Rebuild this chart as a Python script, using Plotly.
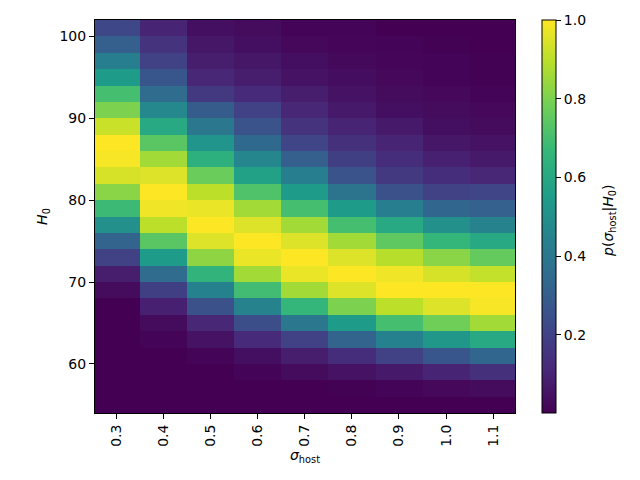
import plotly.graph_objects as go

sigma_host = [0.3, 0.4, 0.5, 0.6, 0.7, 0.8, 0.9, 1.0, 1.1]
H0 = [55, 57, 59, 61, 63, 65, 67, 69, 71, 73, 75, 77, 79, 81, 83, 85, 87, 89, 91, 93, 95, 97, 99, 101]

# columns listed top (H0=101) to bottom (H0=55)
col_03 = [0.22, 0.30, 0.43, 0.55, 0.70, 0.80, 0.92, 1.00, 0.99, 0.94, 0.82, 0.68,
          0.50, 0.32, 0.20, 0.08, 0.03, 0.0, 0.0, 0.0, 0.0, 0.0, 0.0, 0.0]
col_04 = [0.10, 0.15, 0.20, 0.27, 0.35, 0.47, 0.60, 0.74, 0.86, 0.95, 1.00, 0.98,
          0.90, 0.74, 0.55, 0.35, 0.19, 0.09, 0.03, 0.01, 0.0, 0.0, 0.0, 0.0]
col_05 = [0.04, 0.06, 0.08, 0.11, 0.17, 0.29, 0.40, 0.52, 0.63, 0.77, 0.90, 0.97,
          1.00, 0.95, 0.83, 0.65, 0.44, 0.25, 0.11, 0.05, 0.01, 0.0, 0.0, 0.0]
col_06 = [0.03, 0.04, 0.06, 0.08, 0.12, 0.20, 0.26, 0.34, 0.46, 0.57, 0.72, 0.86,
          0.95, 1.00, 0.97, 0.86, 0.69, 0.45, 0.24, 0.12, 0.04, 0.01, 0.0, 0.0]
col_07 = [0.01, 0.02, 0.04, 0.05, 0.08, 0.11, 0.15, 0.21, 0.30, 0.43, 0.55, 0.70,
          0.86, 0.95, 1.00, 0.97, 0.86, 0.66, 0.40, 0.20, 0.08, 0.03, 0.0, 0.0]
col_08 = [0.01, 0.015, 0.025, 0.035, 0.05, 0.07, 0.10, 0.14, 0.19, 0.26, 0.38, 0.55,
          0.70, 0.86, 0.95, 1.00, 0.95, 0.80, 0.55, 0.32, 0.13, 0.05, 0.005, 0.0]
col_09 = [0.0, 0.01, 0.015, 0.02, 0.03, 0.04, 0.07, 0.10, 0.13, 0.17, 0.25, 0.43,
          0.60, 0.75, 0.89, 0.98, 1.00, 0.90, 0.70, 0.44, 0.20, 0.07, 0.01, 0.0]
col_10 = [0.0, 0.005, 0.01, 0.01, 0.02, 0.03, 0.04, 0.06, 0.09, 0.13, 0.20, 0.33,
          0.50, 0.66, 0.82, 0.94, 1.00, 0.95, 0.78, 0.53, 0.27, 0.10, 0.02, 0.0]
col_11 = [0.0, 0.0, 0.005, 0.005, 0.01, 0.02, 0.03, 0.05, 0.07, 0.11, 0.21, 0.31,
          0.45, 0.60, 0.76, 0.91, 1.00, 0.99, 0.86, 0.60, 0.33, 0.14, 0.03, 0.0]

columns = [col_03, col_04, col_05, col_06, col_07, col_08, col_09, col_10, col_11]
# z[row][col] with rows ordered bottom->top to match H0
z = [[columns[c][len(H0) - 1 - r] for c in range(len(sigma_host))] for r in range(len(H0))]

font = "DejaVu Sans, sans-serif"
fs = 14

fig = go.Figure(go.Heatmap(
    x=sigma_host, y=H0, z=z,
    colorscale="Viridis", zmin=0.001, zmax=1.0,
    colorbar=dict(
        thickness=14, thicknessmode="pixels",
        len=1.0, lenmode="fraction", y=0.5, yanchor="middle",
        x=1.064, xanchor="left", xpad=0, ypad=0,
        outlinewidth=1, outlinecolor="black",
        tickvals=[0.2, 0.4, 0.6, 0.8, 1.0], ticktext=["0.2", "0.4", "0.6", "0.8", "1.0"],
        ticks="outside", ticklen=5, tickcolor="black",
        tickfont=dict(family=font, size=fs, color="black"),
    ),
))

fig.add_annotation(
    text="<i>p</i>(<i>σ</i><sub>host</sub>|<i>H</i><sub>0</sub>)",
    xref="paper", yref="paper", x=1.224, y=0.489,
    xanchor="center", yanchor="middle", textangle=-90, showarrow=False,
    font=dict(family=font, size=fs, color="black"),
)

fig.update_layout(
    width=632, height=472,
    margin=dict(l=87, r=125, t=12, b=67),
    paper_bgcolor="white", plot_bgcolor="white",
    font=dict(family=font, size=fs, color="black"),
    xaxis=dict(
        range=[0.2545, 1.1465], tickvals=sigma_host,
        ticktext=[f"{v:.1f}" for v in sigma_host], tickangle=-90,
        ticks="outside", ticklen=5, tickcolor="black",
        tickfont=dict(family=font, size=fs, color="black"),
        showline=True, mirror=True, linecolor="black", linewidth=1,
        showgrid=False, zeroline=False,
        title=dict(text="<i>σ</i><sub>host</sub>", font=dict(family=font, size=fs), standoff=4),
    ),
    yaxis=dict(
        range=[54, 102], tickvals=[60, 70, 80, 90, 100],
        ticks="outside", ticklen=5, tickcolor="black",
        tickfont=dict(family=font, size=fs, color="black"),
        showline=True, mirror=True, linecolor="black", linewidth=1,
        showgrid=False, zeroline=False,
        title=dict(text="<i>H</i><sub>0</sub>", font=dict(family=font, size=fs), standoff=8),
    ),
)

fig.write_html("out.html")
